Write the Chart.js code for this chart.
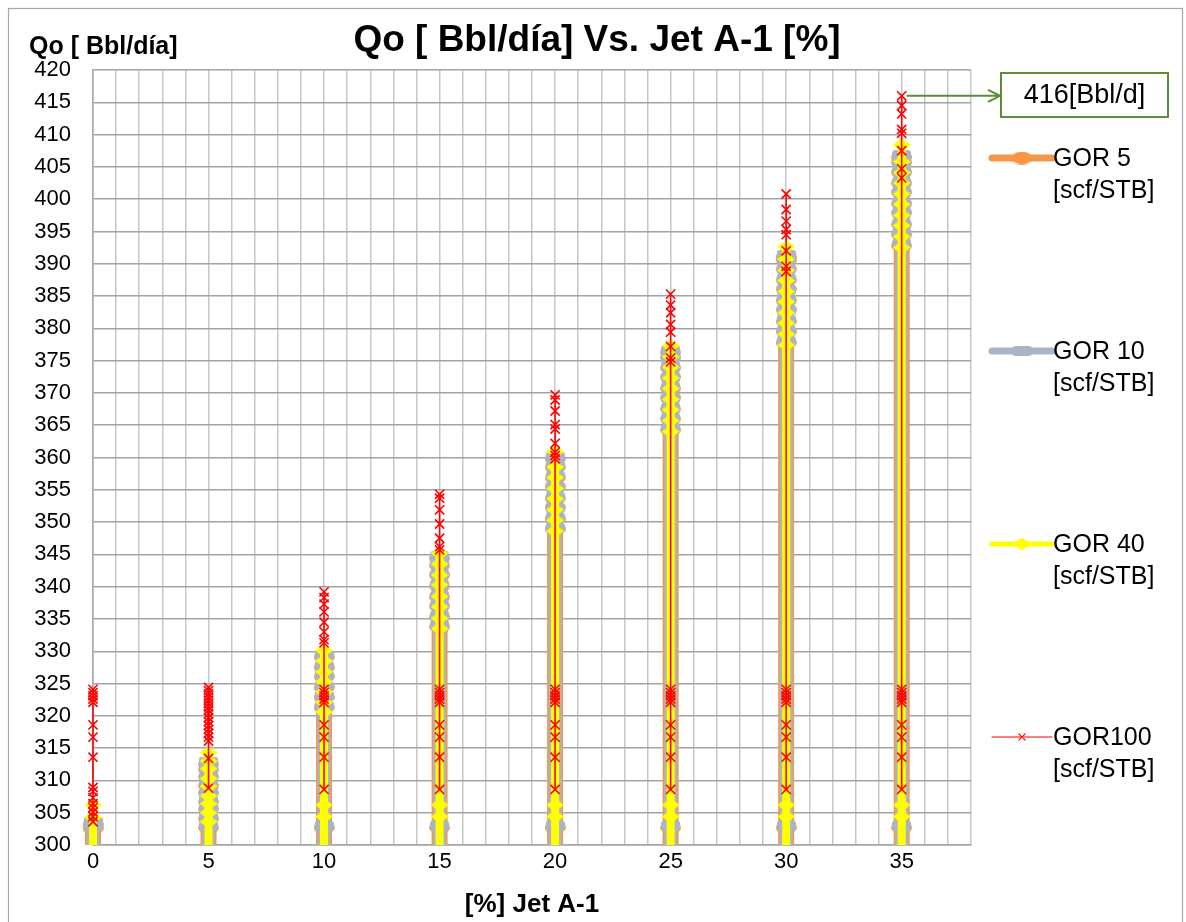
<!DOCTYPE html>
<html>
<head>
<meta charset="utf-8">
<title>Qo vs Jet A-1</title>
<script src="https://cdn.jsdelivr.net/npm/chart.js@4/dist/chart.umd.min.js"></script>
<style>
  html, body { margin: 0; padding: 0; background: #ffffff; }
  #wrap { width: 1186px; height: 922px; position: relative; }
</style>
</head>
<body>
<div id="wrap"><canvas id="chart" width="1186" height="922"></canvas></div>
<script>
// Jet A-1 percentage for each group of readings
const jetA1 = [0, 5, 10, 15, 20, 25, 30, 35];

// Qo [Bbl/día] readings, one list per Jet A-1 percentage (first value lies below the axis floor)
const qoGor5 = [
  [296, 302.6, 303.2],
  [296, 302.7, 304.1, 305.6, 306.7, 308.1, 309.2, 310.6, 311.7, 312.5],
  [296, 302.7, 321.3, 322.9, 324.4, 326.1, 327.5, 329.1],
  [296, 302.7, 333.8, 335.3, 337.0, 338.4, 340.1, 341.8, 343.3, 344.4],
  [296, 302.7, 349.0, 350.5, 352.3, 353.7, 355.5, 356.9, 358.5, 359.8],
  [296, 302.7, 364.3, 366.0, 367.5, 369.3, 370.7, 372.5, 373.9, 375.5, 376.3],
  [296, 302.7, 377.8, 379.5, 381.1, 382.9, 384.3, 386.1, 387.5, 389.2, 390.6, 391.1],
  [296, 302.7, 392.8, 394.5, 396.1, 397.9, 399.3, 401.1, 402.5, 404.2, 405.7, 406.5]
];
const qoGor10 = [
  [296, 302.9, 303.6],
  [296, 303.0, 304.4, 305.5, 306.9, 308.0, 309.4, 310.5, 311.9, 312.9],
  [296, 303.0, 321.5, 323.1, 324.6, 326.2, 327.7, 329.4],
  [296, 303.0, 334.0, 335.5, 337.1, 338.6, 340.3, 341.9, 343.6, 344.7],
  [296, 303.0, 349.1, 350.7, 352.2, 353.9, 355.4, 357.1, 358.7, 360.1],
  [296, 303.0, 364.5, 366.1, 367.7, 369.2, 370.9, 372.4, 374.1, 375.6, 376.6],
  [296, 303.0, 378.0, 379.6, 381.3, 382.8, 384.5, 386.0, 387.7, 389.2, 390.8, 391.4],
  [296, 303.0, 393.0, 394.7, 396.2, 397.9, 399.4, 401.1, 402.6, 404.3, 405.8, 406.8]
];
const qoGor40 = [
  [296, 304.3, 306.2],
  [296, 303.6, 305.0, 306.4, 307.6, 309.1, 310.3, 311.8, 313.0, 314.3],
  [296, 304.4, 306.2, 320.6, 322.1, 323.7, 325.3, 326.8, 328.5, 330.1],
  [296, 304.4, 306.2, 333.5, 335.1, 336.9, 338.5, 340.3, 341.8, 343.5, 345.2],
  [296, 304.4, 306.2, 348.6, 350.3, 351.9, 353.6, 355.2, 356.9, 358.5, 360.9],
  [296, 304.4, 306.2, 364.0, 365.7, 367.4, 369.0, 370.7, 372.3, 374.0, 375.6, 377.3],
  [296, 304.4, 306.2, 377.4, 379.1, 380.8, 382.4, 384.1, 385.7, 387.4, 389.0, 390.7, 392.6],
  [296, 304.4, 306.2, 392.5, 394.2, 395.9, 397.5, 399.2, 400.8, 402.5, 404.1, 405.8, 408.4]
];
const qoGor100 = [
  [303.6, 304.4, 305.1, 305.8, 306.4, 307.3, 308.3, 308.9, 313.6, 316.7, 318.6, 322.1, 322.6, 323.1, 323.6, 324.1],
  [308.8, 313.4, 316.1, 316.7, 317.3, 317.9, 318.5, 319.1, 319.7, 320.3, 320.9, 321.4, 321.9, 322.4, 322.9, 323.4, 323.9, 324.4],
  [308.6, 313.6, 316.7, 318.6, 322.1, 322.6, 323.1, 323.6, 324.1, 331.3, 331.8, 333.0, 334.5, 336.1, 337.3, 338.3, 339.2],
  [308.6, 313.6, 316.7, 318.6, 322.1, 322.6, 323.1, 323.6, 324.1, 345.7, 346.2, 347.5, 349.7, 351.9, 353.7, 354.3],
  [308.6, 313.6, 316.7, 318.6, 322.1, 322.6, 323.1, 323.6, 324.1, 359.8, 360.3, 360.8, 362.2, 364.4, 365.1, 367.2, 368.9, 369.7],
  [308.6, 313.6, 316.7, 318.6, 322.1, 322.6, 323.1, 323.6, 324.1, 374.8, 375.4, 377.2, 379.4, 380.6, 382.4, 383.6, 385.3],
  [308.6, 313.6, 316.7, 318.6, 322.1, 322.6, 323.1, 323.6, 324.1, 388.8, 389.6, 392.0, 394.5, 395.3, 396.6, 398.4, 400.8],
  [308.6, 313.6, 316.7, 318.6, 322.1, 322.6, 323.1, 323.6, 324.1, 403.3, 404.7, 407.5, 410.2, 410.8, 413.2, 414.5, 416.0]
];

const seriesLabels = [
  ['GOR 5', '[scf/STB]'],
  ['GOR 10', '[scf/STB]'],
  ['GOR 40', '[scf/STB]'],
  ['GOR100', '[scf/STB]']
];

const chartTitle = 'Qo [ Bbl/día] Vs. Jet A-1 [%]';
const yAxisTitle = 'Qo [ Bbl/día]';
const xAxisTitle = '[%] Jet A-1';
const yRange = { min: 300, max: 420, step: 5 };
const xRange = { min: 0, max: 38, step: 1, labelEvery: 5 };

const FONT = '"Liberation Sans", Arial, Helvetica, sans-serif';
Chart.defaults.font.family = FONT;
Chart.defaults.color = '#000000';

// flat marker shapes used for the wide columns
function marker(kind, w, h, fill) {
  const c = document.createElement('canvas');
  c.width = w; c.height = h;
  const g = c.getContext('2d');
  g.fillStyle = fill;
  g.beginPath();
  if (kind === 'ellipse') {
    g.ellipse(w / 2, h / 2, w / 2, h / 2, 0, 0, Math.PI * 2);
  } else if (kind === 'diamond') {
    g.moveTo(w / 2, 0); g.lineTo(w, h / 2); g.lineTo(w / 2, h); g.lineTo(0, h / 2); g.closePath();
  } else {
    const r = 3;
    g.moveTo(r, 0); g.lineTo(w - r, 0); g.quadraticCurveTo(w, 0, w, r);
    g.lineTo(w, h - r); g.quadraticCurveTo(w, h, w - r, h);
    g.lineTo(r, h); g.quadraticCurveTo(0, h, 0, h - r);
    g.lineTo(0, r); g.quadraticCurveTo(0, 0, r, 0);
  }
  g.fill();
  return c;
}

const ORANGE = '#F79646';
const GRAY = '#A9B5C7';
const YELLOW = '#FFFF00';
const RED = '#FF0000';

// groups joined along each Jet A-1 value, separated by gaps
function toPoints(groups) {
  const pts = [];
  groups.forEach((vals, i) => {
    vals.forEach(v => pts.push({ x: jetA1[i], y: v }));
    pts.push({ x: jetA1[i], y: null });
  });
  return pts;
}

const clipBox = { left: 30, top: 0, right: 0, bottom: 0 };

const datasets = [
  {
    label: seriesLabels[0].join(' '),
    data: toPoints(qoGor5),
    borderColor: ORANGE, backgroundColor: ORANGE,
    borderWidth: 16, pointStyle: marker('ellipse', 21, 13, ORANGE),
    legendWidth: 7, order: 3
  },
  {
    label: seriesLabels[1].join(' '),
    data: toPoints(qoGor10),
    borderColor: GRAY, backgroundColor: GRAY,
    borderWidth: 13, pointStyle: marker('rect', 19, 10, GRAY),
    legendWidth: 7, order: 2
  },
  {
    label: seriesLabels[2].join(' '),
    data: toPoints(qoGor40),
    borderColor: YELLOW, backgroundColor: YELLOW,
    borderWidth: 8, pointStyle: marker('diamond', 18, 13, YELLOW),
    legendWidth: 5, order: 1
  },
  {
    label: seriesLabels[3].join(' '),
    data: toPoints(qoGor100),
    borderColor: RED, backgroundColor: RED,
    borderWidth: 1.6, pointStyle: 'crossRot', pointRadius: 6.5,
    pointBorderWidth: 1.6, pointBorderColor: RED,
    legendWidth: 1.2, order: 0
  }
].map(d => Object.assign({
  showLine: true, spanGaps: false, clip: clipBox,
  borderCapStyle: 'butt', pointRadius: 8, pointHoverRadius: 8, tension: 0
}, d));

// titles, legend, callout and outer frame
const decorations = {
  id: 'decorations',
  afterDraw(chart) {
    const ctx = chart.ctx;
    const area = chart.chartArea;
    ctx.save();

    // outer frame
    ctx.strokeStyle = '#a6a6a6';
    ctx.lineWidth = 1.2;
    ctx.strokeRect(8.5, 8.5, 1174, 930);

    ctx.fillStyle = '#000';
    ctx.textBaseline = 'middle';

    ctx.font = 'bold 37px ' + FONT;
    ctx.textAlign = 'center';
    ctx.fillText(chartTitle, 597, 41);

    ctx.font = 'bold 25px ' + FONT;
    ctx.textAlign = 'left';
    ctx.fillText(yAxisTitle, 29, 47);

    ctx.font = 'bold 26px ' + FONT;
    ctx.textAlign = 'center';
    ctx.fillText(xAxisTitle, (area.left + area.right) / 2, 905);

    // legend
    const metas = chart.data.datasets;
    const legendTop = 158, legendStep = 193;
    const lx0 = 992, lx1 = 1052, mx = 1022;
    metas.forEach((ds, i) => {
      const y = legendTop + i * legendStep;
      ctx.strokeStyle = ds.borderColor;
      ctx.lineWidth = ds.legendWidth;
      ctx.lineCap = 'round';
      ctx.beginPath(); ctx.moveTo(lx0, y); ctx.lineTo(lx1, y); ctx.stroke();
      if (ds.pointStyle instanceof HTMLCanvasElement) {
        const m = ds.pointStyle;
        ctx.drawImage(m, mx - m.width / 2, y - m.height / 2);
      } else {
        ctx.strokeStyle = ds.pointBorderColor;
        ctx.lineWidth = 1.2;
        const r = 3.2;
        ctx.beginPath();
        ctx.moveTo(mx - r, y - r); ctx.lineTo(mx + r, y + r);
        ctx.moveTo(mx - r, y + r); ctx.lineTo(mx + r, y - r);
        ctx.stroke();
      }
      ctx.fillStyle = '#000';
      ctx.font = '25px ' + FONT;
      ctx.textAlign = 'left';
      seriesLabels[i].forEach((line, k) => ctx.fillText(line, 1053, y + 1 + k * 32));
    });

    // callout for the highest reading
    const last = qoGor100[qoGor100.length - 1];
    const peak = Math.max(...last);
    const xs = chart.scales.x, ys = chart.scales.y;
    const px = xs.getPixelForValue(jetA1[jetA1.length - 1]);
    const py = ys.getPixelForValue(peak);
    const box = { x: 1001, y: 73, w: 167, h: 44 };
    const ay = py;
    ctx.strokeStyle = '#5B8C3A';
    ctx.lineWidth = 2;
    ctx.lineCap = 'butt';
    ctx.beginPath();
    ctx.moveTo(px + 5, ay); ctx.lineTo(box.x - 1, ay);
    ctx.moveTo(box.x - 13, ay - 6); ctx.lineTo(box.x - 1, ay); ctx.lineTo(box.x - 13, ay + 6);
    ctx.stroke();
    ctx.strokeRect(box.x, box.y, box.w, box.h);
    ctx.fillStyle = '#000';
    ctx.font = '27px ' + FONT;
    ctx.textAlign = 'center';
    ctx.fillText(Math.round(peak) + '[Bbl/d]', box.x + box.w / 2, box.y + box.h / 2 + 1);

    ctx.restore();
  }
};

new Chart(document.getElementById('chart'), {
  type: 'scatter',
  data: { datasets },
  options: {
    responsive: false,
    animation: false,
    devicePixelRatio: 1,
    layout: { padding: { top: 70, right: 215, left: 0, bottom: 0 } },
    plugins: { legend: { display: false }, title: { display: false }, tooltip: { enabled: false } },
    scales: {
      x: {
        type: 'linear', min: xRange.min, max: xRange.max,
        afterFit(s) { s.height = 77; },
        ticks: {
          stepSize: xRange.step, autoSkip: false, maxRotation: 0, padding: 4,
          color: '#000', font: { size: 22 },
          callback: v => (v % xRange.labelEvery === 0 ? String(v) : '')
        },
        grid: { color: '#c6c6c6', lineWidth: 1.5, drawTicks: false },
        border: { color: '#a6a6a6', width: 1.5 }
      },
      y: {
        type: 'linear', min: yRange.min, max: yRange.max,
        afterFit(s) { s.width = 93; },
        ticks: { stepSize: yRange.step, padding: 22, color: '#000', font: { size: 22 } },
        grid: { color: '#a3a3a3', lineWidth: 1.5, drawTicks: false },
        border: { color: '#a6a6a6', width: 1.5 }
      }
    }
  },
  plugins: [decorations]
});
</script>
</body>
</html>
